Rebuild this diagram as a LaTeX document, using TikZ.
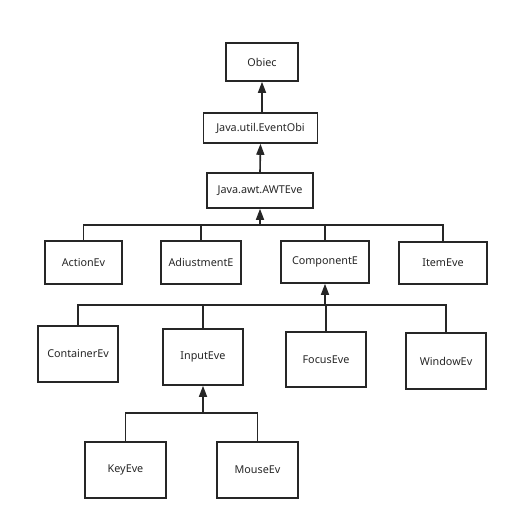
\documentclass[tikz,border=0pt]{standalone}
\usepackage{fontspec}
\setmainfont{Noto Sans}
\usetikzlibrary{arrows.meta}
\begin{document}
\begin{tikzpicture}[x=1pt,y=-1pt,
  box/.style={draw=black!85,line width=1.6pt,rectangle,inner sep=0pt,font=\fontsize{10.8}{12}\selectfont,text=black!85},
  conn/.style={draw=black!85,line width=1.6pt},
  arr/.style={conn,-{Triangle[length=11pt,width=8pt]}}]
\useasboundingbox (0,0) rectangle (512,524);
\node[box,minimum width=72pt,minimum height=38pt] (obj) at (262,62) {Obiec};
\node[box,minimum width=114pt,minimum height=30pt] (evo) at (260.5,128) {Java.util.EventObi};
\node[box,minimum width=106pt,minimum height=35pt] (awt) at (260,190.5) {Java.awt.AWTEve};
\node[box,minimum width=77pt,minimum height=43pt] (act) at (83.5,262.5) {ActionEv};
\node[box,minimum width=80pt,minimum height=43pt] (adj) at (201,262.5) {AdiustmentE};
\node[box,minimum width=88pt,minimum height=42pt] (cmp) at (325,262) {ComponentE};
\node[box,minimum width=88pt,minimum height=42pt] (itm) at (443,263) {ItemEve};
\node[box,minimum width=80pt,minimum height=56pt] (con) at (78,354) {ContainerEv};
\node[box,minimum width=80pt,minimum height=56pt] (inp) at (203,357) {InputEve};
\node[box,minimum width=80pt,minimum height=55pt] (foc) at (326,359.5) {FocusEve};
\node[box,minimum width=80pt,minimum height=56pt] (win) at (446,361) {WindowEv};
\node[box,minimum width=81pt,minimum height=56pt] (key) at (125.5,470) {KeyEve};
\node[box,minimum width=81pt,minimum height=56pt] (mou) at (257.5,470) {MouseEv};
\coordinate (b1) at (260,225);
\coordinate (b2) at (325,305);
\coordinate (b3) at (203,413);
\draw[arr] (evo.north -| obj.south) -- (obj.south);
\draw[arr] (awt.north) -- (evo.south);
\draw[arr] (b1) -- (awt.south);
\draw[conn] (act.north) |- (b1);
\draw[conn] (adj.north) |- (b1);
\draw[conn] (cmp.north) |- (b1);
\draw[conn] (itm.north) |- (b1);
\draw[arr] (b2) -- (cmp.south);
\draw[conn] (con.north) |- (b2);
\draw[conn] (inp.north) |- (b2);
\draw[conn] (foc.north) |- (b2);
\draw[conn] (win.north) |- (b2);
\draw[arr] (b3) -- (inp.south);
\draw[conn] (key.north) |- (b3);
\draw[conn] (mou.north) |- (b3);
\end{tikzpicture}
\end{document}
